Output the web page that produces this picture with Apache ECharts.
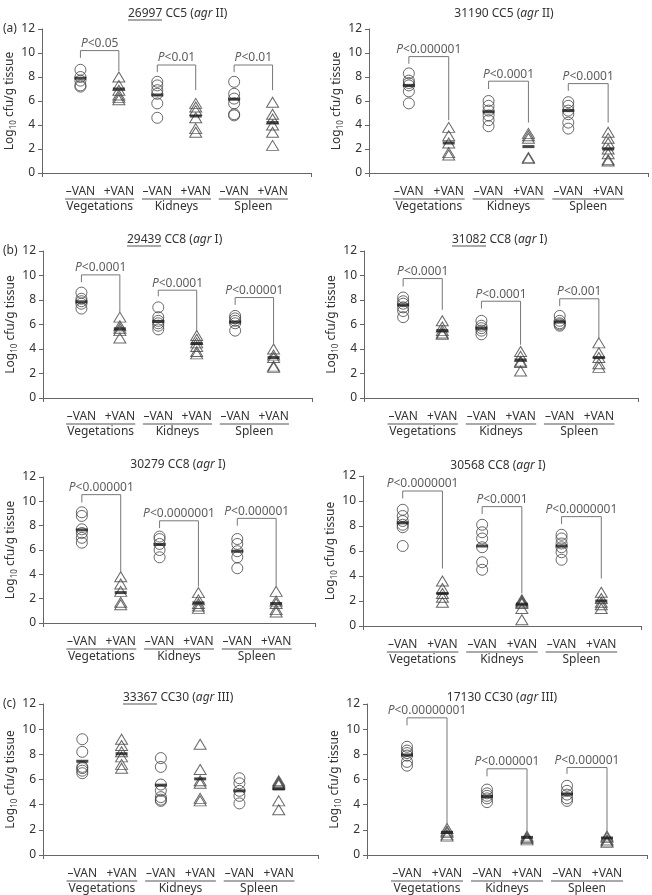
<!DOCTYPE html>
<html>
<head>
<meta charset="utf-8">
<script src="https://cdn.jsdelivr.net/npm/echarts@6/dist/echarts.min.js"></script>
<style>
html, body { margin: 0; padding: 0; background: #fff; }
#chart { width: 652px; height: 895px; }
</style>
</head>
<body>
<div id="chart"></div>
<script>
// panel headers
var strainIds = ['26997', '31190', '29439', '31082', '30279', '30568', '33367', '17130'];
var ccTypes = ['CC5', 'CC5', 'CC8', 'CC8', 'CC8', 'CC8', 'CC30', 'CC30'];
var agrTypes = ['II', 'II', 'I', 'I', 'I', 'I', 'III', 'III'];
var underlined = [true, false, true, true, false, false, true, false];
var groupNames = ['Vegetations', 'Kidneys', 'Spleen'];
var treatLabels = ['–VAN', '+VAN'];
var yTicks = [0, 2, 4, 6, 8, 10, 12];

// log10 cfu/g per animal: [vegetations, kidneys, spleen]
var noVan26997 = [[8.6, 8.0, 7.7, 7.2, 7.3], [7.6, 7.3, 6.9, 6.6, 5.8, 4.6], [7.6, 6.6, 6.2, 5.8, 4.9, 4.8]];
var van26997 = [[8.0, 7.3, 6.9, 6.5, 6.1, 6.3], [5.8, 5.5, 5.2, 4.6, 3.7, 3.4], [5.9, 4.9, 4.5, 4.0, 3.4, 2.3]];
var bars26997 = [7.9, 7.0, 6.5, 4.75, 6.15, 4.2];
var p26997 = [[10.2, 9.6, 8.5, '0.05'], [9.0, 8.4, 6.9, '0.01'], [9.0, 8.4, 6.9, '0.01']];

var noVan31190 = [[8.3, 7.7, 7.5, 7.3, 6.8, 5.8], [6.0, 5.6, 5.2, 4.8, 4.4, 3.9], [5.9, 5.6, 5.2, 4.9, 4.2, 3.7]];
var van31190 = [[3.8, 3.1, 2.5, 1.7, 1.5], [3.3, 3.1, 2.9, 1.3, 1.2], [3.4, 2.9, 2.5, 2.0, 1.6, 1.1, 1.0]];
var bars31190 = [7.3, 2.5, 5.1, 2.2, 5.2, 2.0];
var p31190 = [[9.7, 9.1, 4.4, '0.000001'], [7.65, 7.0, 4.2, '0.0001'], [7.45, 6.85, 4.2, '0.0001']];

var noVan29439 = [[8.6, 8.1, 7.9, 7.7, 7.3], [7.4, 6.6, 6.3, 6.1, 5.9, 5.6], [6.7, 6.5, 6.3, 6.1, 5.5]];
var van29439 = [[6.6, 5.9, 5.7, 5.5, 4.9], [5.1, 4.8, 4.5, 4.2, 3.8, 3.6], [4.0, 3.5, 3.3, 2.6, 2.5]];
var bars29439 = [7.85, 5.65, 6.25, 4.45, 6.2, 3.3];
var p29439 = [[10.05, 9.45, 7.0, '0.0001'], [8.8, 8.3, 5.4, '0.0001'], [8.2, 7.6, 4.3, '0.00001']];

var noVan31082 = [[8.2, 7.9, 7.7, 7.4, 7.1, 6.6], [6.3, 5.9, 5.7, 5.5, 5.2], [6.7, 6.3, 6.1, 6.0, 5.9]];
var van31082 = [[6.3, 5.8, 5.5, 5.3, 5.2], [3.8, 3.4, 3.0, 2.9, 2.2], [4.5, 3.7, 3.3, 2.8, 2.5]];
var bars31082 = [7.6, 5.5, 5.7, 3.1, 6.2, 3.3];
var p31082 = [[9.75, 9.1, 7.2, '0.0001'], [7.9, 7.3, 4.35, '0.0001'], [8.1, 7.5, 4.9, '0.001']];

var noVan30279 = [[9.1, 8.8, 7.7, 7.4, 7.0, 6.6], [7.1, 6.9, 6.5, 6.0, 5.4], [6.9, 6.5, 5.9, 5.4, 4.5]];
var van30279 = [[3.8, 3.2, 2.6, 1.7, 1.5], [2.5, 1.9, 1.6, 1.4, 1.2], [2.6, 1.8, 1.6, 1.1, 0.9]];
var bars30279 = [7.65, 2.5, 6.45, 1.65, 5.9, 1.6];
var p30279 = [[10.55, 9.9, 4.15, '0.000001'], [8.4, 7.8, 3.0, '0.0000001'], [8.6, 8.0, 3.05, '0.000001']];

var noVan30568 = [[9.3, 8.8, 8.4, 8.1, 7.9, 6.4], [8.1, 7.5, 7.0, 6.3, 5.1, 4.5], [7.3, 7.0, 6.6, 6.3, 5.9, 5.3]];
var van30568 = [[3.6, 3.0, 2.6, 2.3, 1.9], [2.1, 2.0, 1.9, 1.8, 1.4, 0.5], [2.7, 2.2, 1.9, 1.7, 1.4]];
var bars30568 = [8.25, 2.6, 6.4, 1.75, 6.4, 2.0];
var p30568 = [[10.8, 10.2, 4.6, '0.0000001'], [9.55, 8.95, 2.6, '0.0001'], [8.75, 8.15, 3.8, '0.0000001']];

var noVan33367 = [[9.2, 8.2, 7.0, 6.9, 6.7, 6.5], [7.7, 7.0, 5.6, 5.1, 4.6, 4.4, 4.3], [6.1, 5.7, 5.1, 4.7, 4.1]];
var van33367 = [[9.2, 8.7, 8.2, 7.8, 7.2, 6.9], [8.8, 6.8, 5.9, 5.7, 4.5, 4.3], [5.9, 5.8, 5.7, 5.6, 4.3, 3.6]];
var bars33367 = [7.45, 8.05, 5.55, 6.05, 5.1, 5.25];
var p33367 = [];

var noVan17130 = [[8.6, 8.3, 8.1, 7.9, 7.4, 7.1], [5.2, 4.9, 4.7, 4.5, 4.2], [5.5, 5.1, 4.8, 4.5, 4.3]];
var van17130 = [[2.1, 1.9, 1.8, 1.6, 1.5], [1.5, 1.4, 1.3, 1.2], [1.5, 1.4, 1.2, 1.1, 1.0]];
var bars17130 = [7.95, 1.8, 4.65, 1.4, 4.85, 1.35];
var p17130 = [[10.9, 10.3, 2.4, '0.00000001'], [6.85, 6.25, 1.75, '0.000001'], [6.95, 6.45, 1.75, '0.000001']];

var panelData = [
    [noVan26997, van26997, bars26997, p26997],
    [noVan31190, van31190, bars31190, p31190],
    [noVan29439, van29439, bars29439, p29439],
    [noVan31082, van31082, bars31082, p31082],
    [noVan30279, van30279, bars30279, p30279],
    [noVan30568, van30568, bars30568, p30568],
    [noVan33367, van33367, bars33367, p33367],
    [noVan17130, van17130, bars17130, p17130]
];

// layout: grid [left, top, width, height], title [x, top, align]
var gridBoxes = [
    [42, 29, 269, 144], [369, 29, 279, 144],
    [43, 251, 269, 147], [364, 251, 274, 147],
    [43, 477, 272, 146], [363, 476, 278, 150],
    [43, 704, 275, 153], [367, 704, 280, 153]
];
var titleBoxes = [
    [128, 7, 'left'], [504, 7, 'center'],
    [127, 233, 'left'], [452, 233, 'left'],
    [178, 458, 'center'], [498, 459, 'center'],
    [123, 691, 'left'], [502, 691, 'center']
];

var TXT = '#333';
var LINE = '#666';
var FONT = 'Noto Sans';

var grids = [], xAxes = [], yAxes = [], series = [], graphics = [];

panelData.forEach(function (pd, k) {
    var g = gridBoxes[k];
    var unit = g[2] / 7;
    grids.push({ left: g[0], top: g[1], width: g[2], height: g[3] });

    xAxes.push({
        gridIndex: k, type: 'value', min: 0, max: 7,
        splitLine: { show: false },
        axisLine: { lineStyle: { color: LINE, width: 1 } },
        axisTick: { customValues: [0, 7], length: 4, lineStyle: { color: LINE } },
        axisLabel: {
            customValues: [1.5, 3.5, 5.5],
            margin: 13,
            color: TXT,
            formatter: function (v) {
                var gi = Math.round((v - 1.5) / 2);
                return '{m|' + treatLabels[0] + '}{m|' + treatLabels[1] + '}\n{ul| }\n{g|' + groupNames[gi] + '}';
            },
            rich: {
                m: { width: unit, align: 'center', fontSize: 12, lineHeight: 11, color: TXT, fontFamily: FONT },
                ul: { width: unit * 1.8, height: 1, lineHeight: 4, backgroundColor: '#555', fontSize: 1 },
                g: { fontSize: 12, lineHeight: 12, color: TXT, fontFamily: FONT }
            }
        }
    });

    yAxes.push({
        gridIndex: k, type: 'value', min: 0, max: 12, interval: 2,
        splitLine: { show: false },
        axisLine: { show: true, lineStyle: { color: LINE, width: 1 } },
        axisTick: { show: true, length: 4, lineStyle: { color: LINE } },
        axisLabel: { color: TXT, fontSize: 12, margin: 7, fontFamily: FONT },
        name: '{a|Log}{s|10}{a| cfu/g tissue}',
        nameLocation: 'middle', nameRotate: 90, nameGap: 21,
        nameTextStyle: {
            rich: {
                a: { fontSize: 12, lineHeight: 16, color: TXT, fontFamily: FONT },
                s: { fontSize: 8, lineHeight: 10, verticalAlign: 'bottom', color: TXT, fontFamily: FONT }
            }
        }
    });

    var noVan = pd[0], van = pd[1], bars = pd[2], brackets = pd[3];
    var circ = [], tri = [];
    for (var gi = 0; gi < 3; gi++) {
        noVan[gi].forEach(function (v) { circ.push([1 + 2 * gi, v]); });
        van[gi].forEach(function (v) { tri.push([2 + 2 * gi, v]); });
    }
    series.push({
        type: 'scatter', xAxisIndex: k, yAxisIndex: k, data: circ,
        symbol: 'circle', symbolSize: 11, silent: true,
        itemStyle: { color: 'rgba(255,255,255,0)', borderColor: '#444', borderWidth: 1 }
    });
    series.push({
        type: 'scatter', xAxisIndex: k, yAxisIndex: k, data: tri,
        symbol: 'triangle', symbolSize: [12, 10], silent: true,
        itemStyle: { color: 'rgba(255,255,255,0)', borderColor: '#444', borderWidth: 1 }
    });
    series.push({
        type: 'scatter', xAxisIndex: k, yAxisIndex: k, z: 5,
        data: bars.map(function (v, i) { return [i + 1, v]; }),
        symbol: 'rect', symbolSize: [12, 3], silent: true,
        itemStyle: { color: '#1a1a1a' }
    });

    brackets.forEach(function (b, bi) {
        var x1 = 1 + 2 * bi, x2 = 2 + 2 * bi;
        series.push({
            type: 'line', xAxisIndex: k, yAxisIndex: k, silent: true,
            data: [[x1, b[1]], [x1, b[0]], [x2, b[0]], [x2, b[2]]],
            symbol: 'none', lineStyle: { color: '#777', width: 1 }
        });
        series.push({
            type: 'scatter', xAxisIndex: k, yAxisIndex: k, silent: true,
            data: [[x1 + 0.5, b[0], b[3]]], symbolSize: 0,
            label: {
                show: true, position: 'top', distance: 1,
                formatter: function (p) { return '{i|P}{n|<' + p.data[2] + '}'; },
                rich: {
                    i: { fontStyle: 'italic', fontSize: 12, color: TXT, fontFamily: FONT },
                    n: { fontSize: 12, color: TXT, fontFamily: FONT }
                }
            }
        });
    });

    // strain title
    var t = titleBoxes[k];
    graphics.push({
        type: 'text', x: t[0], y: t[1],
        style: {
            text: '{r|' + strainIds[k] + ' ' + ccTypes[k] + ' (}{i|agr}{r| ' + agrTypes[k] + ')}',
            align: t[2], verticalAlign: 'top',
            rich: {
                r: { fontSize: 12, lineHeight: 14, fill: TXT, fontFamily: FONT },
                i: { fontSize: 12, lineHeight: 14, fill: TXT, fontStyle: 'italic', fontFamily: FONT }
            }
        }
    });
    if (underlined[k]) {
        graphics.push({
            type: 'rect', shape: { x: t[0], y: t[1] + 12.5, width: 34, height: 1 },
            style: { fill: '#555' }
        });
    }
});

// panel letters
[['(a)', 29], ['(b)', 251], ['(c)', 704]].forEach(function (l) {
    graphics.push({
        type: 'text', x: 3, y: l[1], style: {
            text: l[0], fontSize: 12, fill: TXT, fontFamily: FONT, verticalAlign: 'middle'
        }
    });
});

var myChart = echarts.init(document.getElementById('chart'), null, { renderer: 'canvas' });
myChart.setOption({
    animation: false,
    backgroundColor: '#fff',
    textStyle: { fontFamily: FONT, color: TXT },
    grid: grids,
    xAxis: xAxes,
    yAxis: yAxes,
    series: series,
    graphic: graphics
});
</script>
</body>
</html>
